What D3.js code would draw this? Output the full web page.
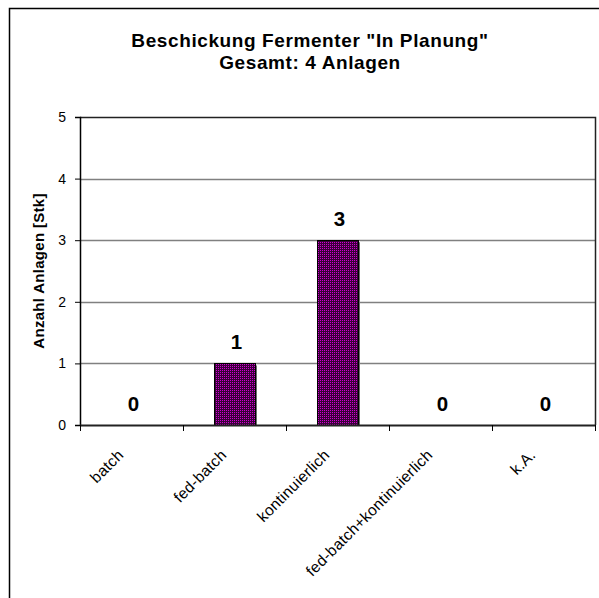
<!DOCTYPE html>
<html>
<head>
<meta charset="utf-8">
<script src="https://cdn.jsdelivr.net/npm/d3@7"></script>
<style>
  html, body { margin: 0; padding: 0; background: #fff; }
  svg { display: block; font-family: Arial, "Liberation Sans", sans-serif; }
</style>
</head>
<body>
<script>
// Feeding mode of planned fermenters (count of plants)
const categories = ["batch", "fed-batch", "kontinuierlich", "fed-batch+kontinuierlich", "k.A."];
const values = [0, 1, 3, 0, 0];
const yTicks = [0, 1, 2, 3, 4, 5];
const titleLines = ["Beschickung Fermenter \"In Planung\"", "Gesamt: 4 Anlagen"];
const yTitle = "Anzahl Anlagen [Stk]";

const W = 599, H = 598;
const plot = { left: 80, right: 595, top: 117, bottom: 425 };
const FONT = "Arial, 'Liberation Sans', sans-serif";

const svg = d3.select("body").append("svg")
  .attr("width", W).attr("height", H);

// dotted purple fill used by the bars
const defs = svg.append("defs");
const pat = defs.append("pattern")
  .attr("id", "barFill").attr("patternUnits", "userSpaceOnUse")
  .attr("width", 2).attr("height", 2);
pat.append("rect").attr("width", 2).attr("height", 2).attr("fill", "#3a003a")
  .attr("shape-rendering", "crispEdges");
pat.append("rect").attr("width", 1).attr("height", 1).attr("fill", "#d000d0")
  .attr("shape-rendering", "crispEdges");

// outer chart frame
svg.append("rect")
  .attr("x", 9.5).attr("y", 8.5).attr("width", 800).attr("height", 800)
  .attr("fill", "none").attr("stroke", "#000").attr("stroke-width", 1.5);

const x = d3.scaleBand().domain(categories)
  .range([plot.left, plot.right]).paddingInner(0.6).paddingOuter(0.3);
const xOuter = d3.scaleBand().domain(categories).range([plot.left, plot.right]);
const y = d3.scaleLinear().domain([0, 5]).range([plot.bottom, plot.top]);

// gridlines
svg.append("g").selectAll("line").data(yTicks.filter(d => d > 0 && d < 5)).join("line")
  .attr("x1", plot.left).attr("x2", plot.right)
  .attr("y1", d => Math.round(y(d)) + 0.5).attr("y2", d => Math.round(y(d)) + 0.5)
  .attr("stroke", "#808080").attr("stroke-width", 1.5);

// plot border (top & right)
svg.append("path")
  .attr("d", `M${plot.left},${plot.top + 0.5}H${plot.right + 0.5}V${plot.bottom}`)
  .attr("fill", "none").attr("stroke", "#222").attr("stroke-width", 1.5);

// bars with a grey drop shadow on the right
const barData = values.map((v, i) => ({ v, c: categories[i] })).filter(d => d.v > 0);
const bars = svg.append("g");
bars.selectAll("rect.shadow").data(barData)
  .join("rect").attr("class", "shadow")
  .attr("x", d => Math.round(x(d.c)) + 2).attr("y", d => y(d.v) + 2)
  .attr("width", Math.round(x.bandwidth())).attr("height", d => y(0) - y(d.v) - 2)
  .attr("fill", "#6e6e6e");
bars.selectAll("rect.bar").data(barData)
  .join("rect").attr("class", "bar")
  .attr("x", d => Math.round(x(d.c)) + 0.5).attr("y", d => Math.round(y(d.v)) + 0.5)
  .attr("width", Math.round(x.bandwidth())).attr("height", d => y(0) - Math.round(y(d.v)))
  .attr("fill", "url(#barFill)").attr("stroke", "#000").attr("stroke-width", 1);

// y axis
const yAxis = d3.axisLeft(y).tickValues(yTicks).tickSize(5).tickPadding(9).tickFormat(d3.format("d"));
const gy = svg.append("g").attr("transform", `translate(${plot.left},0)`).call(yAxis)
  .attr("font-size", 14).attr("font-family", FONT);
gy.select(".domain").attr("stroke", "#000").attr("stroke-width", 1.5);
gy.selectAll(".tick line").attr("stroke", "#000");
gy.selectAll(".tick text").attr("fill", "#000");

// x axis with ticks on category boundaries
const gx = svg.append("g").attr("transform", `translate(0,${plot.bottom})`);
gx.append("line").attr("x1", plot.left).attr("x2", plot.right + 1)
  .attr("y1", 0.5).attr("y2", 0.5).attr("stroke", "#222").attr("stroke-width", 2);
const bounds = categories.map(c => xOuter(c)).concat([plot.right]);
gx.selectAll("line.tk").data(bounds).join("line").attr("class", "tk")
  .attr("x1", d => Math.round(d) + 0.5).attr("x2", d => Math.round(d) + 0.5)
  .attr("y1", 0).attr("y2", 6).attr("stroke", "#000");
gx.selectAll("text").data(categories).join("text")
  .attr("transform", c => `translate(${xOuter(c) + xOuter.bandwidth() / 2 - 7},31) rotate(-45)`)
  .attr("text-anchor", "end")
  .attr("font-size", 15.5).attr("letter-spacing", 0.3).attr("fill", "#000")
  .text(c => c);

// value labels
svg.append("g").selectAll("text").data(values.map((v, i) => ({ v, c: categories[i] }))).join("text")
  .attr("x", d => xOuter(d.c) + xOuter.bandwidth() / 2 + 2)
  .attr("y", d => y(d.v) - 14)
  .attr("text-anchor", "middle").attr("font-size", 20.5).attr("font-weight", "bold")
  .text(d => d.v);

// y axis title
svg.append("text")
  .attr("transform", `translate(44,${(plot.top + plot.bottom) / 2}) rotate(-90)`)
  .attr("text-anchor", "middle").attr("font-size", 15).attr("font-weight", "bold")
  .attr("letter-spacing", 0.3)
  .text(yTitle);

// chart title
svg.append("g").selectAll("text").data(titleLines).join("text")
  .attr("x", 310).attr("y", (d, i) => 47 + i * 22)
  .attr("text-anchor", "middle").attr("font-size", 19).attr("font-weight", "bold")
  .attr("letter-spacing", 0.6)
  .text(d => d);
</script>
</body>
</html>
